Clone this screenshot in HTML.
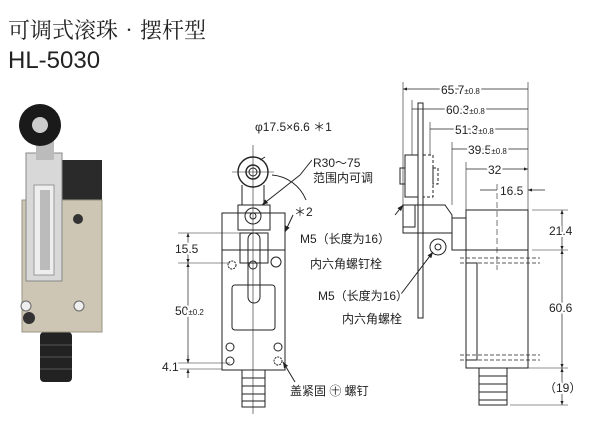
<!DOCTYPE html>
<html><head><meta charset="utf-8"><style>
body{margin:0;background:#fff;width:600px;height:439px;overflow:hidden}
svg{display:block}
text{font-family:"Liberation Sans","Noto Sans CJK SC",sans-serif;fill:#222}
.lb text{stroke:#fff;stroke-width:4px;paint-order:stroke;stroke-linejoin:round}
</style></head><body>
<svg width="600" height="439" viewBox="0 0 600 439">
<defs>
<marker id="a" viewBox="0 0 10 10" refX="10" refY="5" markerWidth="6" markerHeight="6" orient="auto-start-reverse"><path d="M0 1L10 5L0 9Z" fill="#222"/></marker>
</defs>
<text x="8" y="38" font-size="22" style="font-family:'Noto Serif CJK SC',serif">可调式滚珠•摆杆型</text>
<text x="8" y="68" font-size="24">HL-5030</text>

<!-- photo -->
<g>
<rect x="40" y="332" width="32" height="50" rx="4" fill="#222"/>
<g stroke="#555" stroke-width="1"><line x1="40" y1="345" x2="72" y2="345"/><line x1="40" y1="357" x2="72" y2="357"/><line x1="40" y1="369" x2="72" y2="369"/></g>
<rect x="62" y="160" width="40" height="48" fill="#2a2a2a"/>
<rect x="22" y="200" width="80" height="132" fill="#cdc6b4"/>
<rect x="22" y="200" width="80" height="132" fill="none" stroke="#9a9484"/>
<rect x="26" y="153" width="36" height="128" fill="#d8d8d8" stroke="#888"/>
<rect x="34" y="185" width="20" height="90" fill="#eee" stroke="#999"/>
<rect x="40" y="190" width="10" height="80" fill="#bbb"/>
<rect x="36" y="120" width="18" height="40" fill="#bbb"/>
<circle cx="40" cy="125" r="21" fill="#1a1a1a"/>
<circle cx="40" cy="125" r="8" fill="#ccc"/>
<circle cx="78" cy="219" r="5" fill="#333"/>
<circle cx="29" cy="318" r="6" fill="#333"/>
<circle cx="26" cy="306" r="5" fill="#eee" stroke="#666"/>
<circle cx="79" cy="306" r="5" fill="#eee" stroke="#666"/>
</g>

<g stroke="#222" fill="none" stroke-width="1">
<!-- front view -->
<line x1="253" y1="145" x2="253" y2="414" stroke-width="0.6"/>
<line x1="232" y1="172" x2="274" y2="172" stroke-width="0.6"/>
<circle cx="253" cy="172" r="15" stroke-width="1.4"/>
<circle cx="253" cy="172" r="7" stroke-width="1.4"/>
<circle cx="253" cy="172" r="4"/>
<path d="M242 185 L242 205 M264 185 L264 205"/>
<path d="M272 175 A40 40 0 0 1 306 200"/>
<rect x="222" y="213" width="63" height="37"/>
<rect x="238" y="205" width="32" height="25"/>
<circle cx="253" cy="216" r="8"/>
<circle cx="253" cy="216" r="3"/>
<rect x="222" y="250" width="63" height="120"/>
<rect x="232" y="285" width="43" height="45" rx="3"/>
<rect x="248" y="233" width="12" height="70" rx="6"/>
<rect x="240" y="233" width="28" height="30"/>
<circle cx="253" cy="265" r="4"/><circle cx="232" cy="265" r="4" stroke-dasharray="2 1"/><circle cx="276" cy="262" r="5"/>
<circle cx="230" cy="347" r="4"/><circle cx="278" cy="347" r="4"/>
<circle cx="230" cy="361" r="4"/><circle cx="278" cy="361" r="4" stroke-dasharray="2 1"/>
<rect x="242" y="370" width="23" height="37"/>
<path d="M242 378h23M242 386h23M242 394h23M242 401h23"/>
<line x1="300" y1="175" x2="262" y2="205" marker-end="url(#a)"/>
<line x1="312" y1="160" x2="300" y2="175"/>
<line x1="293" y1="215" x2="285" y2="232" marker-end="url(#a)"/>
<line x1="295" y1="382" x2="283" y2="362" marker-end="url(#a)"/>
<line x1="265" y1="157" x2="260" y2="160" />
<!-- left dims -->
<path d="M178 233H240M178 263H230M178 363H230M178 369H222" stroke-width="0.6"/>
<line x1="188" y1="233" x2="188" y2="263" stroke-width="0.7" marker-start="url(#a)" marker-end="url(#a)"/>
<line x1="188" y1="263" x2="188" y2="363" stroke-width="0.7" marker-start="url(#a)" marker-end="url(#a)"/>
<line x1="188" y1="355" x2="188" y2="363" stroke-width="0.7" marker-end="url(#a)"/>
<line x1="188" y1="378" x2="188" y2="369" stroke-width="0.7" marker-end="url(#a)"/>
<!-- side view -->
<path d="M403 82V205M412 100V155M430 122V155M452 142V205M466 162V210M528 82V212" stroke-width="0.6"/>
<g stroke-width="0.7" marker-start="url(#a)" marker-end="url(#a)">
<path d="M403 89H528M412 109H528M430 129H528M452 149H528M466 169H528"/>
</g>
<path d="M480 190H497M545 190H528" stroke-width="0.7" marker-end="url(#a)"/>
<line x1="497" y1="184" x2="497" y2="270" stroke-dasharray="6 3" stroke-width="0.6"/>
<rect x="418" y="103" width="5" height="215"/>
<rect x="405" y="155" width="13" height="42"/>
<rect x="400" y="168" width="5" height="16"/>
<rect x="423" y="155" width="10" height="42" stroke-dasharray="3 2"/>
<rect x="433" y="168" width="5" height="16" stroke-dasharray="3 2"/>
<path d="M403 205H445L452 215V233H403Z"/>
<rect x="403" y="205" width="12" height="22"/>
<circle cx="438" cy="247" r="8"/><circle cx="438" cy="247" r="3"/>
<rect x="452" y="218" width="14" height="32"/>
<rect x="466" y="210" width="62" height="40"/>
<rect x="466" y="250" width="62" height="118"/>
<rect x="466" y="263" width="11" height="97"/>
<path d="M460 258H540M460 263H540M460 355H540M460 360H540" stroke-dasharray="4 2" stroke-width="0.7"/>
<rect x="479" y="368" width="28" height="37"/>
<path d="M479 376h28M479 384h28M479 392h28M479 400h28"/>
<path d="M532 210H568M532 250H568M510 368H568M510 405H568" stroke-width="0.6"/>
<g stroke-width="0.7" marker-start="url(#a)" marker-end="url(#a)">
<line x1="562" y1="210" x2="562" y2="250"/><line x1="562" y1="250" x2="562" y2="368"/><line x1="562" y1="368" x2="562" y2="405"/>
</g>
<line x1="395" y1="215" x2="403" y2="205" marker-end="url(#a)"/>
<line x1="398" y1="298" x2="433" y2="252" marker-end="url(#a)"/>
</g>
<g font-size="12" class="lb">
<text x="255" y="131">φ17.5×6.6 ＊1</text>
<text x="313" y="167">R30～75</text>
<text x="313" y="182">范围内可调</text>
<text x="294" y="216">＊2</text>
<text x="300" y="243">M5（长度为16）</text>
<text x="310" y="268">内六角螺钉栓</text>
<text x="318" y="300">M5（长度为16）</text>
<text x="342" y="323">内六角螺栓</text>
<text x="290" y="395">盖紧固 ㊉ 螺钉</text>
<text x="175" y="253">15.5</text>
<text x="175" y="315">50<tspan font-size="8">±0.2</tspan></text>
<text x="162" y="371">4.1</text>
<text x="441" y="94">65.7<tspan font-size="8">±0.8</tspan></text>
<text x="446" y="114">60.3<tspan font-size="8">±0.8</tspan></text>
<text x="455" y="134">51.3<tspan font-size="8">±0.8</tspan></text>
<text x="468" y="154">39.5<tspan font-size="8">±0.8</tspan></text>
<text x="488" y="174">32</text>
<text x="500" y="195">16.5</text>
<text x="549" y="235">21.4</text>
<text x="549" y="312">60.6</text>
<text x="544" y="392">（19）</text>
</g>
</svg>
</body></html>
